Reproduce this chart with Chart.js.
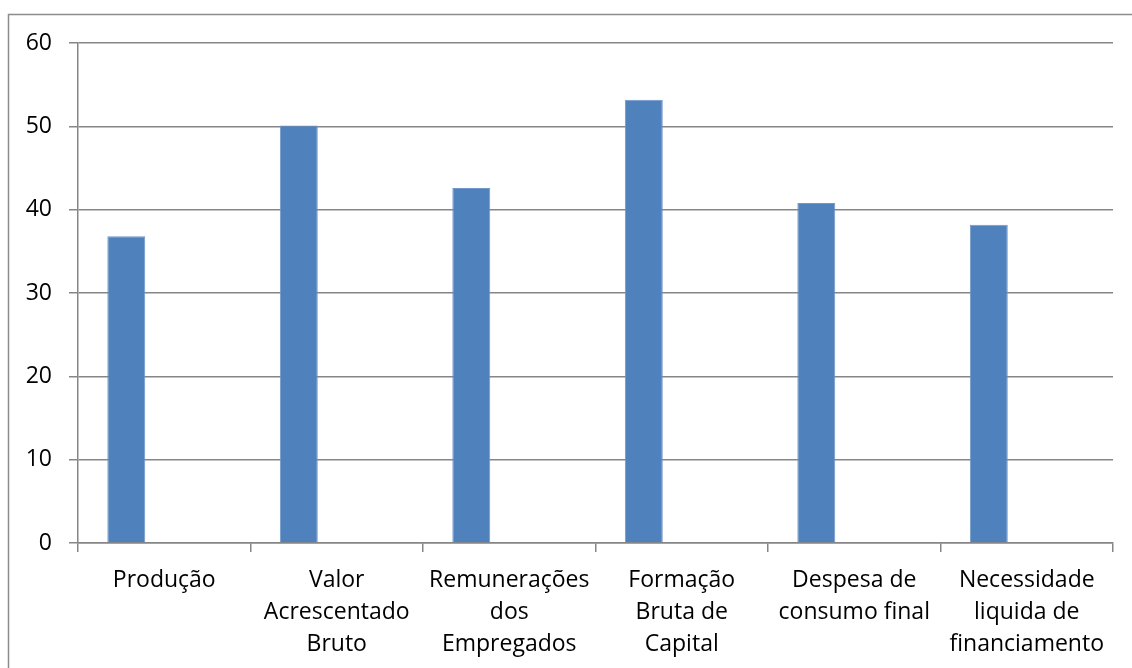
<!DOCTYPE html>
<html lang="pt">
<head>
    <meta charset="UTF-8">
    <title>Variação por agregado</title>
    <script src="https://cdn.jsdelivr.net/npm/chart.js@4/dist/chart.umd.min.js"></script>
    <style>
        body { margin: 0; background: #fff; }
    </style>
</head>
<body>
    <canvas id="chart" width="1132" height="668"></canvas>

    <script>
        // Categorias (quebradas em linhas como no eixo)
        const categories = [
            ['Produção'],
            ['Valor', 'Acrescentado', 'Bruto'],
            ['Remunerações', 'dos', 'Empregados'],
            ['Formação', 'Bruta de', 'Capital'],
            ['Despesa de', 'consumo final'],
            ['Necessidade', 'liquida de', 'financiamento']
        ];
        const values = [36.8, 50.1, 42.6, 53.2, 40.8, 38.2];
        // Séries vazias que reservam espaço no grupo, como na folha original
        const emptySeries2 = [];
        const emptySeries3 = [];
        const yTicks = [0, 10, 20, 30, 40, 50, 60];

        const gridGray = '#868686';
        const font = { family: 'Open Sans', size: 23, lineHeight: 1.38 };

        // Moldura exterior da área do gráfico
        const frame = {
            id: 'frame',
            afterDraw(chart) {
                const c = chart.ctx;
                c.save();
                c.strokeStyle = '#8c8c8c';
                c.lineWidth = 1.5;
                c.strokeRect(8.5, 14.5, 1300, 800);
                c.restore();
            }
        };

        new Chart(document.getElementById('chart'), {
            type: 'bar',
            data: {
                labels: categories,
                datasets: [
                    { data: values, backgroundColor: '#4F81BD', borderColor: '#7196CA', borderWidth: 1 },
                    { data: emptySeries2, backgroundColor: '#C0504D' },
                    { data: emptySeries3, backgroundColor: '#9BBB59' }
                ]
            },
            options: {
                responsive: false,
                animation: false,
                layout: { padding: { top: 43, right: 19, left: 0, bottom: 0 } },
                datasets: { bar: { categoryPercentage: 0.66, barPercentage: 1.0 } },
                plugins: { legend: { display: false }, tooltip: { enabled: false } },
                scales: {
                    x: {
                        afterFit(scale) { scale.height = 125; },
                        grid: { offset: true, drawOnChartArea: false, color: gridGray, tickLength: 9, lineWidth: 1.5 },
                        border: { color: gridGray, width: 1.5 },
                        ticks: { color: '#000', font: font, padding: 13, maxRotation: 0, autoSkip: false },
                        afterTickToLabelConversion(scale) {
                            scale.ticks.forEach((t, i) => { t.label = categories[i]; });
                        }
                    },
                    y: {
                        min: 0,
                        max: 60,
                        afterFit(scale) { scale.width = 78; },
                        afterBuildTicks(scale) { scale.ticks = yTicks.map(v => ({ value: v })); },
                        grid: { color: gridGray, tickLength: 9, lineWidth: 1.5 },
                        border: { color: gridGray, width: 1.5 },
                        ticks: { color: '#000', font: font, padding: 17 }
                    }
                }
            },
            plugins: [frame]
        });
    </script>
</body>
</html>
